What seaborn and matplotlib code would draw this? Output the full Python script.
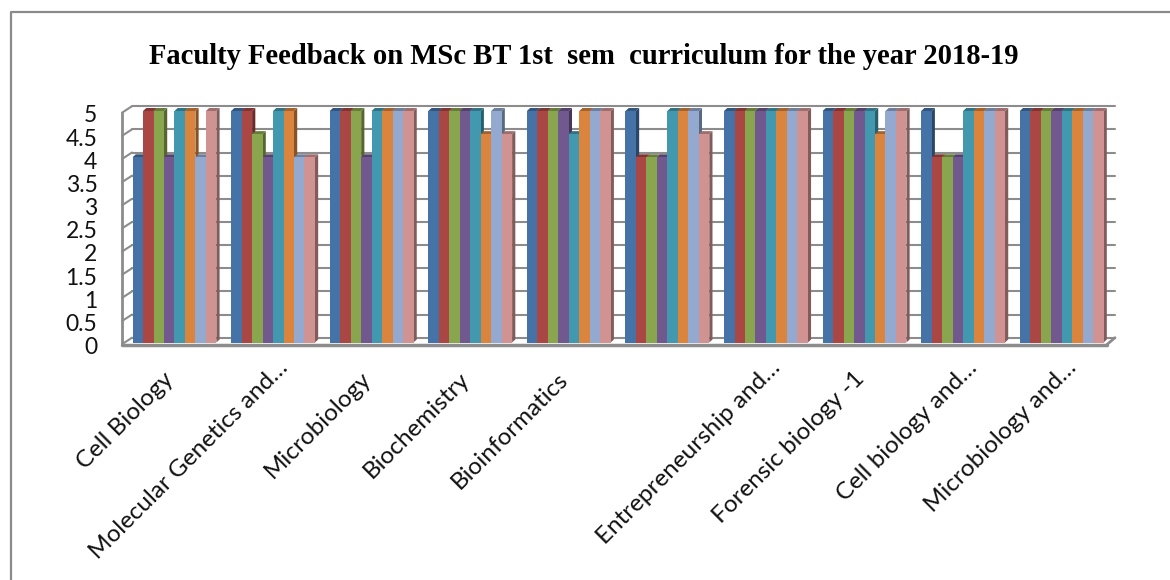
import numpy as np
import pandas as pd
import seaborn as sns
import matplotlib.pyplot as plt
from matplotlib.colors import to_rgb
from matplotlib.lines import Line2D
from matplotlib.patches import Polygon
from matplotlib.transforms import ScaledTranslation

W, H = 1170, 580

subjects = ['Cell Biology', 'Molecular Genetics and…', 'Microbiology', 'Biochemistry',
            'Bioinformatics', ' ', 'Entrepreneurship and…', 'Forensic biology -1',
            'Cell biology and…', 'Microbiology and…']
q1 = [4, 5, 5, 5, 5, 5, 5, 5, 5, 5]
q2 = [5, 5, 5, 5, 5, 4, 5, 5, 4, 5]
q3 = [5, 4.5, 5, 5, 5, 4, 5, 5, 4, 5]
q4 = [4, 4, 4, 5, 5, 4, 5, 5, 4, 5]
q5 = [5, 5, 5, 5, 4.5, 5, 5, 5, 5, 5]
q6 = [5, 5, 5, 4.5, 5, 5, 5, 4.5, 5, 5]
q7 = [4, 4, 5, 5, 5, 5, 5, 5, 5, 5]
q8 = [5, 4, 5, 4.5, 5, 4.5, 5, 5, 5, 5]
colors = ['#4572A7', '#AA4643', '#89A54E', '#71588F', '#4198AF', '#DB843D', '#93A9CF', '#D19392']

rows = []
for name, vals in zip(['q1', 'q2', 'q3', 'q4', 'q5', 'q6', 'q7', 'q8'], [q1, q2, q3, q4, q5, q6, q7, q8]):
    for s, v in zip(subjects, vals):
        rows.append({'subject': s, 'question': name, 'score': v})
df = pd.DataFrame(rows)

sns.set_theme(style='white')
plt.rcParams['font.family'] = ['Lato', 'DejaVu Sans']

fig = plt.figure(figsize=(W / 100, H / 100), dpi=100)
# pixel box of the front plane of the plot
left, right, top, bottom = 125.2, 1111, 111, 342.5
ax = fig.add_axes([left / W, 1 - bottom / H, (right - left) / W, (bottom - top) / H])
ax.set_zorder(5)

sns.barplot(data=df, x='subject', y='score', hue='question', palette=colors, saturation=1,
            width=0.85, gap=0, legend=False, ax=ax, zorder=3, linewidth=0)
ax.set_xlim(-0.5, 9.5)
ax.set_ylim(0, 5)
for s in ax.spines.values():
    s.set_visible(False)

grey = '#8C8C8C'


def pix_line(xs, ys, lw=1.6, c=grey, z=1):
    fig.add_artist(Line2D([x / W for x in xs], [1 - y / H for y in ys], color=c, lw=lw, zorder=z,
                          solid_capstyle='round'))


# back wall, side wall and floor
for v in np.arange(0, 5.5, 0.5):
    back = 337.7 - v * 46.3
    front = back + 6.5
    pix_line([132, 1115], [back, back], lw=1.5)
    pix_line([122, 132], [front, back], lw=1.5)
pix_line([122, 122], [113, 344], lw=2)
pix_line([122, 1107], [344.5, 344.5], lw=2.5)
pix_line([1107, 1115], [344.5, 337.7], lw=2)
ax.patch.set_alpha(0)

# depth faces of the bars, worked out from the bars seaborn drew
dx = 3.2 * (10 / (right - left))
dy = 3.0 * (5 / (bottom - top))
bars = [b for b in ax.patches if b.get_height() > 0]
for bar, col in zip(bars, np.repeat(colors, len(subjects), axis=0)):
    x0, w, h = bar.get_x(), bar.get_width(), bar.get_height()
    rgb = np.array(to_rgb(col))
    ax.add_patch(Polygon([(x0 + w, 0), (x0 + w + dx, dy), (x0 + w + dx, h + dy), (x0 + w, h)],
                         fc=rgb * 0.62, ec='none', zorder=2.5, clip_on=False))
    ax.add_patch(Polygon([(x0, h), (x0 + dx, h + dy), (x0 + w + dx, h + dy), (x0 + w, h)],
                         fc=rgb * 0.75, ec='none', zorder=2.5, clip_on=False))

ax.set_xlabel('')
ax.set_ylabel('')
ax.set_yticks(np.arange(0, 5.5, 0.5))
ax.set_yticklabels(['0', '0.5', '1', '1.5', '2', '2.5', '3', '3.5', '4', '4.5', '5'], fontsize=16.5, color='#111111')
ax.tick_params(axis='y', length=0, pad=20)
ax.tick_params(axis='x', length=0, pad=26)
ax.set_xticks(range(len(subjects)))
ax.set_xticklabels(subjects, rotation=45, ha='right', va='center', rotation_mode='anchor',
                   fontsize=17.5, color='#111111')
for lab in ax.get_yticklabels():
    lab.set_transform(lab.get_transform() + ScaledTranslation(0, -3 / 100, fig.dpi_scale_trans))
# the clipped labels sit further up and to the right
for lab in ax.get_xticklabels():
    if lab.get_text().endswith('…'):
        shift = (11, 14)
    else:
        shift = (-4, 3)
    lab.set_transform(lab.get_transform() + ScaledTranslation(shift[0] / 100, shift[1] / 100, fig.dpi_scale_trans))

fig.text(584 / W, 1 - 57 / H, 'Faculty Feedback on MSc BT 1st  sem  curriculum for the year 2018-19',
         family='Liberation Serif', weight='bold', fontsize=20.6, color='black', ha='center', va='center')

# chart frame, only top and left show in the picture
pix_line([11, 11, 1170], [580, 12, 12], lw=1.6, c='#8A8A8A')

fig.savefig('out.png', dpi=100)
